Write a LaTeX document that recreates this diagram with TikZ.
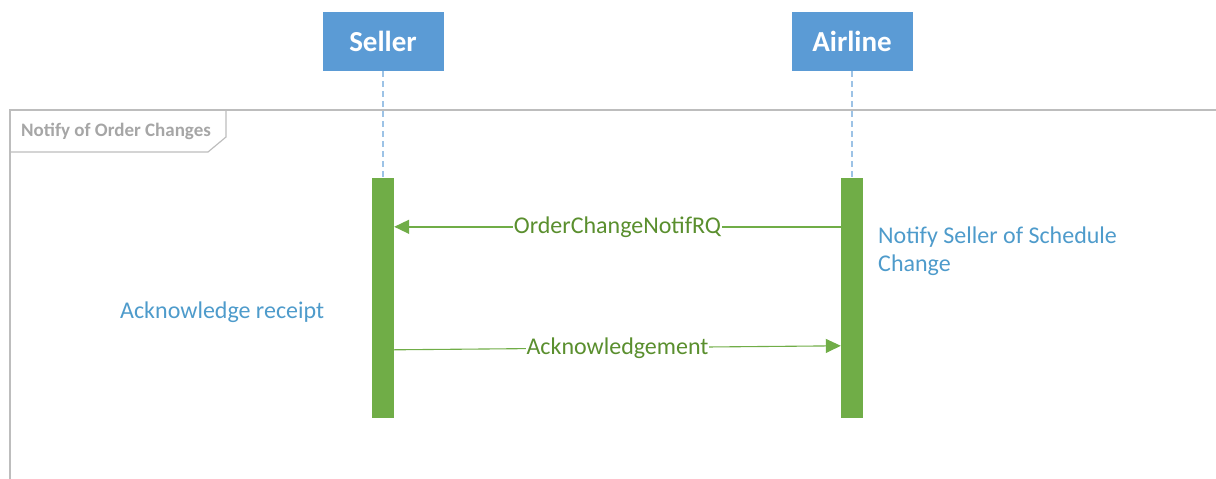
\documentclass[tikz,border=0pt]{standalone}
\usepackage{fontspec}
\setmainfont{Carlito}
\usetikzlibrary{arrows.meta,calc}
\definecolor{hdrblue}{HTML}{5B9BD5}
\definecolor{lifeblue}{HTML}{9DC3E6}
\definecolor{barg}{HTML}{70AD47}
\definecolor{lblg}{HTML}{5A8F2E}
\definecolor{txtblue}{HTML}{4E9BCB}
\definecolor{frameg}{HTML}{BDBDBD}
\definecolor{tabtxt}{HTML}{A6A6A6}
\tikzset{
  actor/.style={rectangle, fill=hdrblue, text=white, font=\fontsize{29}{33}\selectfont\bfseries, minimum width=121pt, minimum height=59pt, inner sep=0pt},
  lifeline/.style={draw=lifeblue, line width=1.5pt, dash pattern=on 6pt off 4pt},
  actbar/.style={rectangle, fill=barg, minimum width=22pt, minimum height=240pt, inner sep=0pt},
  msg/.style={draw=barg, line width=1.5pt, -{Triangle[length=15pt,width=14pt]}},
  lbl/.style={fill=white, text=lblg, font=\fontsize{24}{28}\selectfont, inner sep=1pt},
  note/.style={text=txtblue, font=\fontsize{24}{28}\selectfont, inner sep=0pt, align=left},
  frameline/.style={draw=frameg, line width=1.5pt},
}
\begin{document}
\begin{tikzpicture}[x=1pt,y=-1pt]
\useasboundingbox (0,0) rectangle (1216,479);
% frame
\draw[frameline] (10,479) -- (10,110) -- (1216,110);
\draw[frameline, line width=1.2pt] (10,152) -- (208,152) -- (226,137) -- (226,110);
\node[anchor=west, text=tabtxt, font=\fontsize{19}{22}\selectfont\bfseries, inner sep=0pt] (tab) at (21,131) {Notify of Order Changes};
% actors
\node[actor] (seller) at (383,41.5) {Seller};
\node[actor] (airline) at (852,41.5) {Airline};
% activation bars
\node[actbar] (sbar) at (383,298) {};
\node[actbar] (abar) at (852,298) {};
% lifelines
\draw[lifeline] (seller.south) -- (sbar.north);
\draw[lifeline] (airline.south) -- (abar.north);
% messages
\draw[msg] ([yshift=-49pt]abar.north west) -- node[lbl]{OrderChangeNotifRQ} ([yshift=-49pt]sbar.north east);
\draw[msg, line width=1.1pt] ([yshift=-172pt]sbar.north east) -- node[lbl]{Acknowledgement} ([yshift=-168pt]abar.north west);
% notes
\node[note, anchor=west] (n1) at (878,251) {Notify Seller of Schedule\\Change};
\node[note, anchor=west] (n2) at (120,312) {Acknowledge receipt};
\end{tikzpicture}
\end{document}
